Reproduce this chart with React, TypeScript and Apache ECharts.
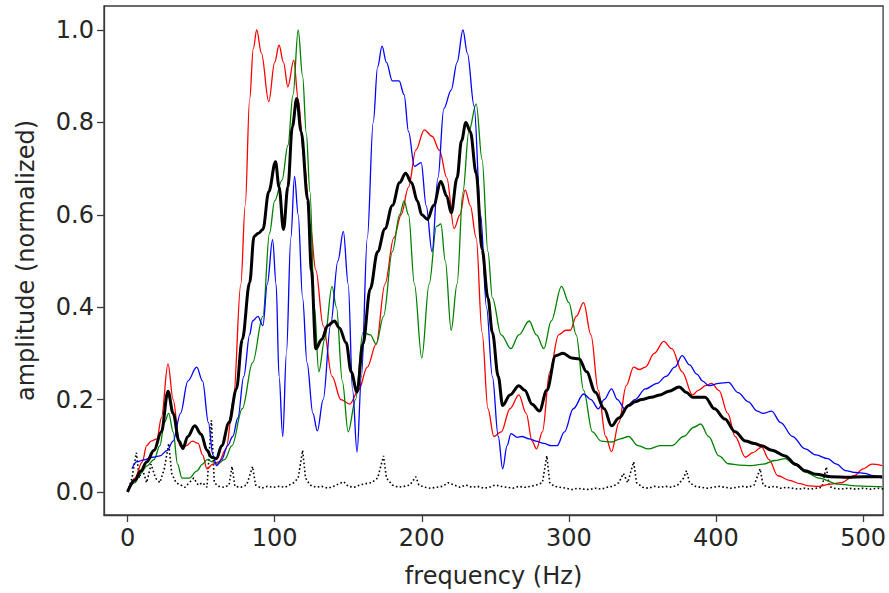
import React, { useEffect, useRef } from "react";
import * as echarts from "echarts";

const xTicks = [0, 100, 200, 300, 400, 500];
const yTicks = [0, 0.2, 0.4, 0.6, 0.8, 1.0];

const redSeries: number[][] = [
  [0, 0], [5, 0.03], [10, 0.065], [13, 0.1], [16, 0.11], [20, 0.115], [23, 0.16], [27.5, 0.277], [31, 0.2],
  [35.5, 0.1], [40, 0.1], [44, 0.11], [48, 0.105], [51, 0.08], [54, 0.05], [58, 0.06], [62, 0.065], [67, 0.093],
  [72, 0.2], [77, 0.45], [80, 0.62], [83, 0.85], [85.5, 0.96], [87.8, 1.0], [91, 0.95], [96, 0.845], [100, 0.93],
  [103, 0.967], [106, 0.93], [109, 0.877], [113, 0.935], [116, 0.85], [120, 0.72], [124, 0.58], [128, 0.48],
  [133, 0.36], [139, 0.25], [145, 0.2], [151, 0.19], [157, 0.22], [163, 0.27], [169, 0.32], [175, 0.45],
  [181, 0.55], [186, 0.6], [191, 0.66], [196, 0.74], [201.7, 0.784], [207, 0.77], [212, 0.74], [217, 0.68],
  [222, 0.57], [226, 0.6], [229.5, 0.654], [233, 0.62], [237, 0.55], [241, 0.345], [245, 0.18], [249, 0.12],
  [254, 0.13], [260, 0.18], [266, 0.21], [271, 0.17], [275, 0.11], [278, 0.093], [282, 0.13], [287, 0.26],
  [293, 0.34], [298, 0.35], [301, 0.35], [305, 0.38], [310, 0.41], [315, 0.34], [320, 0.22], [325, 0.12],
  [329, 0.087], [334, 0.15], [339, 0.23], [344, 0.27], [348, 0.265], [352, 0.27], [358, 0.3], [364.5, 0.326],
  [370, 0.31], [377, 0.26], [384, 0.21], [388, 0.22], [393, 0.23], [397, 0.235], [402, 0.22], [408, 0.17],
  [413, 0.12], [420, 0.075], [425, 0.085], [431, 0.097], [436, 0.07], [442, 0.035], [450, 0.025], [457, 0.018],
  [463, 0.013], [470, 0.012], [478, 0.017], [485, 0.02], [494, 0.035], [500, 0.05], [506, 0.06], [513, 0.057],
];

const greenSeries: number[][] = [
  [0, 0], [5, 0.02], [9, 0.04], [13, 0.056], [18, 0.07], [22, 0.1], [25, 0.15], [28, 0.17], [31, 0.13],
  [34, 0.06], [37, 0.03], [42, 0.03], [47, 0.045], [51, 0.06], [54, 0.07], [58, 0.065], [61, 0.06], [66, 0.07],
  [71, 0.1], [78, 0.18], [85, 0.28], [92, 0.38], [96.5, 0.56], [100, 0.63], [105, 0.675], [109, 0.75],
  [112.5, 0.86], [116, 1.0], [119, 0.9], [121.5, 0.777], [124, 0.65], [127, 0.4], [130, 0.26], [134, 0.33],
  [139, 0.445], [142, 0.4], [146, 0.24], [150, 0.13], [155, 0.2], [160, 0.345], [165, 0.34], [169, 0.32],
  [174, 0.38], [180, 0.52], [185, 0.6], [188, 0.63], [191, 0.6], [195, 0.45], [200, 0.29], [205, 0.45],
  [210, 0.575], [213, 0.58], [216, 0.5], [220, 0.35], [224, 0.45], [228, 0.65], [232, 0.78], [237, 0.84],
  [241, 0.72], [245, 0.52], [248, 0.42], [254, 0.34], [260.6, 0.31], [266, 0.34], [273, 0.37], [278, 0.34],
  [283, 0.31], [288, 0.37], [295, 0.445], [300, 0.41], [305, 0.34], [310, 0.22], [316, 0.13], [322, 0.11],
  [329, 0.108], [335, 0.115], [340.6, 0.12], [347, 0.1], [354, 0.093], [362, 0.1], [370, 0.1], [378, 0.12],
  [385, 0.14], [389.6, 0.147], [395, 0.12], [402, 0.078], [408.5, 0.061], [416, 0.058], [424, 0.057],
  [432, 0.06], [440, 0.068], [447, 0.072], [454, 0.058], [460.6, 0.043], [470, 0.03], [483, 0.017],
  [495, 0.013], [505, 0.012], [513, 0.011],
];

const blueSeries: number[][] = [
  [3, 0.05], [6, 0.065], [12, 0.07], [17, 0.075], [22, 0.078], [27, 0.09], [31, 0.11], [36, 0.17], [41, 0.24],
  [47, 0.27], [51, 0.24], [55, 0.15], [58, 0.08], [60.5, 0.057], [64, 0.07], [68, 0.1], [71.5, 0.12], [75, 0.16],
  [79, 0.25], [83, 0.34], [85, 0.37], [88.6, 0.38], [92, 0.36], [95, 0.45], [98.6, 0.546], [101, 0.45],
  [103, 0.25], [105.5, 0.12], [108, 0.3], [111, 0.55], [113.5, 0.683], [116, 0.6], [119, 0.42], [122, 0.28],
  [126, 0.17], [129, 0.132], [133, 0.2], [138, 0.36], [143, 0.5], [146.7, 0.564], [150, 0.45], [153, 0.22],
  [156, 0.086], [159, 0.25], [163, 0.55], [167, 0.8], [170, 0.92], [173, 0.965], [176, 0.93], [180, 0.89],
  [184.6, 0.89], [188, 0.86], [191, 0.78], [195, 0.705], [199.6, 0.713], [203, 0.62], [207, 0.52], [211, 0.68],
  [215, 0.83], [220, 0.87], [224, 0.93], [228, 1.0], [231, 0.95], [235.6, 0.835], [240, 0.6], [244, 0.4],
  [248, 0.25], [252, 0.12], [255, 0.05], [258, 0.1], [260.6, 0.126], [265, 0.118], [268, 0.12], [273, 0.115],
  [277.6, 0.11], [283, 0.105], [288, 0.1], [292, 0.1], [297, 0.13], [303, 0.18], [310, 0.212], [315, 0.2],
  [320, 0.18], [324, 0.2], [329, 0.223], [333, 0.2], [338, 0.18], [345, 0.2], [352, 0.223], [360, 0.235],
  [366, 0.25], [372, 0.27], [377, 0.295], [382, 0.275], [387, 0.255], [391, 0.24], [395, 0.23], [402, 0.235],
  [408.5, 0.237], [415, 0.215], [422, 0.195], [428, 0.175], [432, 0.17], [437.8, 0.175], [444, 0.15],
  [452, 0.12], [460.6, 0.093], [468, 0.08], [476, 0.072], [482, 0.06], [488, 0.046], [495, 0.042], [501, 0.04],
  [507, 0.035], [513, 0.03],
];

const meanSeries: number[][] = [
  [0, 0], [5, 0.025], [9, 0.045], [13, 0.065], [18, 0.09], [23, 0.13], [27.5, 0.218], [31, 0.17], [35, 0.11],
  [37.6, 0.094], [41, 0.12], [45.7, 0.143], [50, 0.125], [54, 0.09], [57, 0.075], [60.5, 0.072], [64, 0.1],
  [69, 0.15], [74, 0.223], [78, 0.33], [83, 0.453], [86, 0.553], [89, 0.56], [92, 0.568], [96, 0.65],
  [100.6, 0.715], [103, 0.66], [106, 0.568], [109, 0.66], [112, 0.79], [115, 0.852], [118, 0.78],
  [122.5, 0.633], [125, 0.48], [128, 0.31], [132, 0.33], [136, 0.36], [140.6, 0.37], [144, 0.355],
  [148.6, 0.323], [152, 0.26], [156, 0.216], [160, 0.32], [165, 0.44], [170, 0.52], [175, 0.57], [180, 0.62],
  [185, 0.67], [189, 0.69], [193, 0.67], [197, 0.63], [200, 0.6], [204, 0.59], [208, 0.62], [213, 0.672],
  [217, 0.64], [220, 0.604], [224, 0.68], [227, 0.76], [230, 0.8], [233, 0.78], [237, 0.69], [241, 0.525],
  [245, 0.42], [248, 0.345], [252, 0.25], [255, 0.187], [260, 0.21], [266, 0.23], [270, 0.22], [275, 0.19],
  [280, 0.175], [285, 0.22], [291, 0.295], [296, 0.3], [302, 0.29], [307, 0.288], [312, 0.26], [318, 0.216],
  [324, 0.18], [329, 0.143], [334, 0.16], [340.6, 0.187], [345, 0.195], [349.5, 0.2], [356, 0.205],
  [362, 0.21], [368, 0.218], [375, 0.227], [380, 0.215], [384, 0.205], [389, 0.205], [392.6, 0.205],
  [399, 0.18], [406, 0.158], [413, 0.13], [420, 0.11], [426, 0.105], [431, 0.1], [438, 0.09], [447, 0.078],
  [454, 0.06], [460.6, 0.046], [468, 0.038], [478, 0.033], [490, 0.032], [500, 0.033], [513, 0.033],
];

const dottedSeries: number[][] = [
  [0, 0.0], [3, 0.03], [6, 0.085], [8, 0.03], [10, 0.05], [13, 0.02], [16, 0.06], [19, 0.03], [22, 0.02],
  [25, 0.05], [28, 0.105], [30, 0.04], [33, 0.02], [36, 0.015], [39, 0.01], [42, 0.02], [45, 0.03], [48, 0.015],
  [51, 0.02], [54, 0.01], [57, 0.155], [59, 0.02], [62, 0.012], [66, 0.01], [69, 0.015], [71, 0.055], [73, 0.012],
  [77, 0.01], [81, 0.015], [85, 0.055], [87, 0.015], [91, 0.008], [95, 0.012], [99, 0.01], [103, 0.012],
  [107, 0.01], [110, 0.015], [113, 0.02], [116, 0.03], [119, 0.09], [121, 0.03], [124, 0.015], [128, 0.01],
  [132, 0.012], [136, 0.008], [140, 0.012], [144, 0.018], [147, 0.022], [150, 0.012], [154, 0.01], [158, 0.015],
  [162, 0.018], [166, 0.02], [170, 0.03], [174, 0.078], [176, 0.03], [180, 0.015], [184, 0.01], [188, 0.012],
  [192, 0.015], [196, 0.033], [198, 0.015], [202, 0.01], [206, 0.008], [210, 0.01], [214, 0.012], [218, 0.02],
  [222, 0.015], [226, 0.01], [230, 0.015], [234, 0.01], [238, 0.012], [242, 0.008], [246, 0.01], [250, 0.015],
  [254, 0.012], [258, 0.01], [262, 0.008], [266, 0.012], [270, 0.01], [274, 0.012], [278, 0.015], [282, 0.02],
  [285, 0.078], [287, 0.02], [290, 0.012], [294, 0.01], [298, 0.008], [302, 0.005], [306, 0.008], [310, 0.006],
  [314, 0.005], [318, 0.008], [322, 0.006], [326, 0.01], [330, 0.012], [334, 0.02], [337, 0.04], [340, 0.02],
  [344, 0.065], [346, 0.02], [350, 0.01], [354, 0.008], [358, 0.012], [362, 0.01], [366, 0.012], [370, 0.01],
  [374, 0.015], [378, 0.03], [380, 0.046], [382, 0.02], [386, 0.012], [390, 0.01], [394, 0.008], [398, 0.01],
  [402, 0.012], [406, 0.01], [410, 0.008], [414, 0.01], [418, 0.012], [422, 0.01], [426, 0.015], [430, 0.05],
  [432, 0.015], [436, 0.01], [440, 0.012], [444, 0.008], [448, 0.01], [452, 0.008], [456, 0.006], [460, 0.008],
  [464, 0.006], [468, 0.008], [472, 0.01], [475, 0.054], [477, 0.012], [480, 0.008], [485, 0.006], [490, 0.008],
  [495, 0.006], [500, 0.008], [505, 0.006], [510, 0.008], [515, 0.006],
];

export default function App() {
  const ref = useRef<HTMLDivElement>(null);
  useEffect(() => {
    if (!ref.current) return;
    const chart = echarts.init(ref.current, null, { renderer: "svg" });
    const font = "DejaVu Sans";
    const textColor = "#262626";
    const fs = 24;
    const thin = (name: string, data: number[][], color: string) => ({
      name,
      type: "line",
      data,
      showSymbol: false,
      smooth: 0.35,
      smoothMonotone: "x",
      lineStyle: { color, width: 1.3 },
      z: 2,
    });
    chart.setOption({
      animation: false,
      backgroundColor: "#ffffff",
      grid: {
        left: 104,
        top: 6,
        right: 4,
        bottom: 77,
        show: true,
        borderColor: "#3a3a3a",
        borderWidth: 1.3,
        backgroundColor: "transparent",
      },
      xAxis: {
        type: "value",
        min: -16,
        max: 513.6,
        name: "frequency (Hz)",
        nameLocation: "middle",
        nameGap: 49,
        nameTextStyle: { fontFamily: font, fontSize: fs, color: textColor },
        splitLine: { show: false },
        axisLine: { show: true, onZero: false, lineStyle: { color: "#3a3a3a", width: 1.3 } },
        axisTick: { show: true, inside: false, length: 7, customValues: xTicks, lineStyle: { color: "#3a3a3a", width: 1.3 } },
        axisLabel: {
          customValues: xTicks,
          margin: 11,
          fontFamily: font,
          fontSize: fs,
          color: textColor,
        },
      },
      yAxis: {
        type: "value",
        min: -0.05,
        max: 1.052,
        name: "amplitude (normalized)",
        nameLocation: "middle",
        nameGap: 66,
        nameRotate: 90,
        nameTextStyle: { fontFamily: font, fontSize: fs, color: textColor },
        splitLine: { show: false },
        axisLine: { show: true, onZero: false, lineStyle: { color: "#3a3a3a", width: 1.3 } },
        axisTick: { show: true, inside: false, length: 7, customValues: yTicks, lineStyle: { color: "#3a3a3a", width: 1.3 } },
        axisLabel: {
          customValues: yTicks,
          margin: 10,
          fontFamily: font,
          fontSize: fs,
          color: textColor,
          formatter: (v: number) => v.toFixed(1),
        },
      },
      series: [
        {
          name: "spectrum",
          type: "line",
          data: dottedSeries,
          showSymbol: false,
          lineStyle: { color: "#000000", width: 1.6, type: [1.6, 2.4] },
          z: 1,
        },
        thin("red", redSeries, "#ff0000"),
        thin("green", greenSeries, "#008000"),
        thin("blue", blueSeries, "#0000ff"),
        {
          name: "mean",
          type: "line",
          data: meanSeries,
          showSymbol: false,
          smooth: 0.35,
          smoothMonotone: "x",
          lineStyle: { color: "#000000", width: 3 },
          z: 3,
        },
      ],
    });
    return () => chart.dispose();
  }, []);
  return (
    <div
      ref={ref}
      style={{ position: "fixed", left: 0, top: 0, width: 889, height: 593, background: "#fff" }}
    />
  );
}
